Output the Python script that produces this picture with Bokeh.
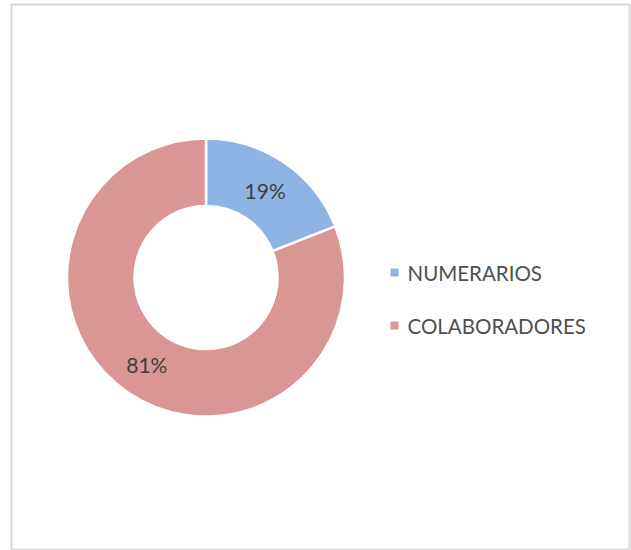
import numpy as np
from bokeh.plotting import figure
from bokeh.models import Range1d, ColumnDataSource
from bokeh.core.properties import value
from bokeh.embed import file_html
from bokeh.resources import INLINE

categories = ["NUMERARIOS", "COLABORADORES"]
values = [19, 81]
colors = ["#8EB4E3", "#D99694"]
labels = ["19%", "81%"]

W, H = 631, 550
p = figure(width=W, height=H, output_backend="svg", toolbar_location=None,
           min_border_left=11, min_border_top=4, min_border_right=2, min_border_bottom=1)
p.x_range = Range1d(11, 629)
p.y_range = Range1d(H - 549, H - 4)
p.axis.visible = False
p.grid.visible = False
p.outline_line_color = "#D9D9D9"
p.outline_line_width = 2
p.background_fill_color = "white"
p.border_fill_color = "white"

cx, cy = 205.5, H - 277
r_out, r_in = 139, 71.5

vals = np.array(values, dtype=float)
frac = vals / vals.sum()
ends = np.cumsum(frac)
starts = ends - frac
start_angle = np.pi / 2 - starts * 2 * np.pi
end_angle = np.pi / 2 - ends * 2 * np.pi
mid = (start_angle + end_angle) / 2
r_lab = (r_out + r_in) / 2

src = ColumnDataSource(dict(
    cat=categories, start=start_angle, end=end_angle, color=colors,
    lx=cx + r_lab * np.cos(mid), ly=cy + r_lab * np.sin(mid), lab=labels,
))

p.annular_wedge(x=cx, y=cy, inner_radius=r_in, outer_radius=r_out,
                start_angle="start", end_angle="end", direction="clock",
                fill_color="color", line_color="white", line_width=2.5, source=src)

p.text(x="lx", y="ly", text="lab", source=src, text_font=value("Lato"),
       text_font_size="21px", text_color="#404040", text_align="center",
       text_baseline="middle")

# legend
leg_x = 394
leg_y = H - np.array([272, 325])
lsrc = ColumnDataSource(dict(x=[leg_x] * len(categories), y=leg_y, color=colors,
                             tx=[leg_x + 13] * len(categories), cat=categories))
p.rect(x="x", y="y", width=8, height=8, fill_color="color", line_color=None, source=lsrc)
p.text(x="tx", y="y", text="cat", source=lsrc, text_font=value("Lato"),
       text_font_size="20.5px", text_color="#505050", text_align="left",
       text_baseline="middle")

open("out.html", "w").write(file_html(p, INLINE))
